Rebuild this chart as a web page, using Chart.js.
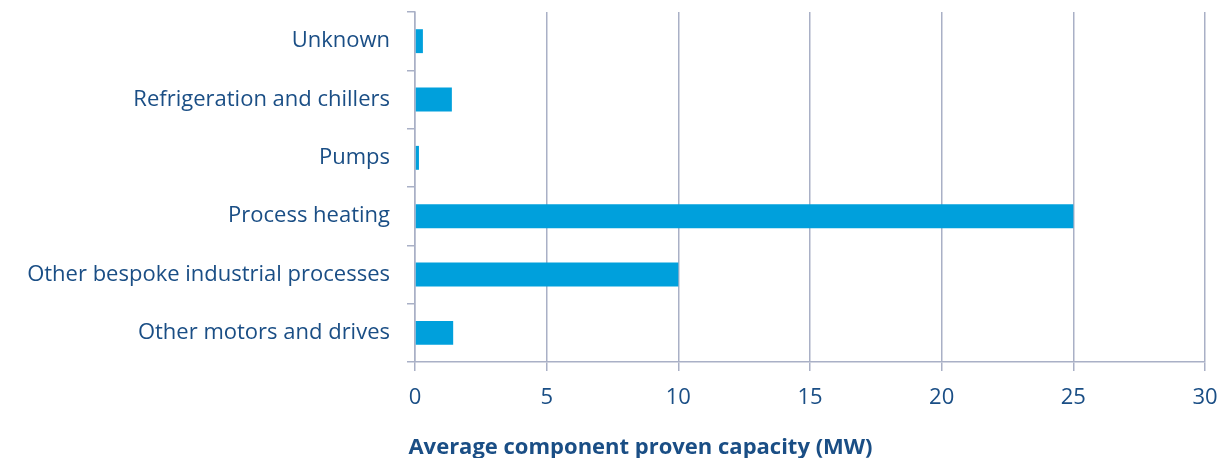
<!DOCTYPE html>
<html>
<head>
<meta charset="utf-8">
<script src="https://cdn.jsdelivr.net/npm/chart.js@4/dist/chart.umd.min.js"></script>
<style>
  html, body { margin: 0; padding: 0; background: #ffffff; }
  #wrap { width: 1227px; height: 458px; position: relative; }
</style>
</head>
<body>
<div id="wrap"><canvas id="chart"></canvas></div>
<script>
// Component categories, top to bottom
const categories = [
  'Unknown',
  'Refrigeration and chillers',
  'Pumps',
  'Process heating',
  'Other bespoke industrial processes',
  'Other motors and drives'
];
// Average component proven capacity, MW
const capacityMW = [0.3, 1.4, 0.15, 25, 10, 1.45];
// Horizontal axis range and step
const xMin = 0;
const xMax = 30;
const xStep = 5;
const axisTitle = 'Average component proven capacity (MW)';

const textColor = '#1a4e85';
const lineColor = '#a9b0c6';
const barColor = '#00a0dc';
const fontFamily = '"Open Sans", sans-serif';

// Bold axis caption under the tick labels
const captionPlugin = {
  id: 'caption',
  afterDraw(chart) {
    const ctx = chart.ctx;
    ctx.save();
    ctx.font = 'bold 22px ' + fontFamily;
    ctx.fillStyle = textColor;
    ctx.textAlign = 'center';
    ctx.textBaseline = 'middle';
    ctx.fillText(axisTitle, chart.width / 2 + 27, chart.height - 10);
    ctx.restore();
  }
};

new Chart(document.getElementById('chart'), {
  type: 'bar',
  data: {
    labels: categories,
    datasets: [{
      data: capacityMW,
      backgroundColor: barColor,
      borderWidth: 0,
      categoryPercentage: 1.0,
      barPercentage: 0.41
    }]
  },
  options: {
    indexAxis: 'y',
    responsive: true,
    maintainAspectRatio: false,
    animation: false,
    layout: { padding: { top: 12, right: 22, left: 0, bottom: 0 } },
    plugins: {
      legend: { display: false },
      tooltip: { enabled: false }
    },
    scales: {
      x: {
        min: xMin,
        max: xMax,
        afterFit(scale) {
          scale.height = 96;
          scale.paddingLeft = 0;
          scale.paddingRight = 0;
        },
        ticks: {
          stepSize: xStep,
          color: textColor,
          font: { family: fontFamily, size: 22 },
          padding: 14
        },
        grid: {
          color: lineColor,
          lineWidth: 1.5,
          tickLength: 9,
          drawTicks: true
        },
        border: { color: lineColor, width: 1.5 }
      },
      y: {
        afterFit(scale) {
          scale.width = 415;
          scale.paddingTop = 0;
          scale.paddingBottom = 0;
        },
        ticks: {
          color: textColor,
          font: { family: fontFamily, size: 22 },
          padding: 17
        },
        grid: {
          offset: true,
          drawOnChartArea: false,
          color: lineColor,
          lineWidth: 1.5,
          tickLength: 8
        },
        border: { color: lineColor, width: 1.5 }
      }
    }
  },
  plugins: [captionPlugin]
});
</script>
</body>
</html>
